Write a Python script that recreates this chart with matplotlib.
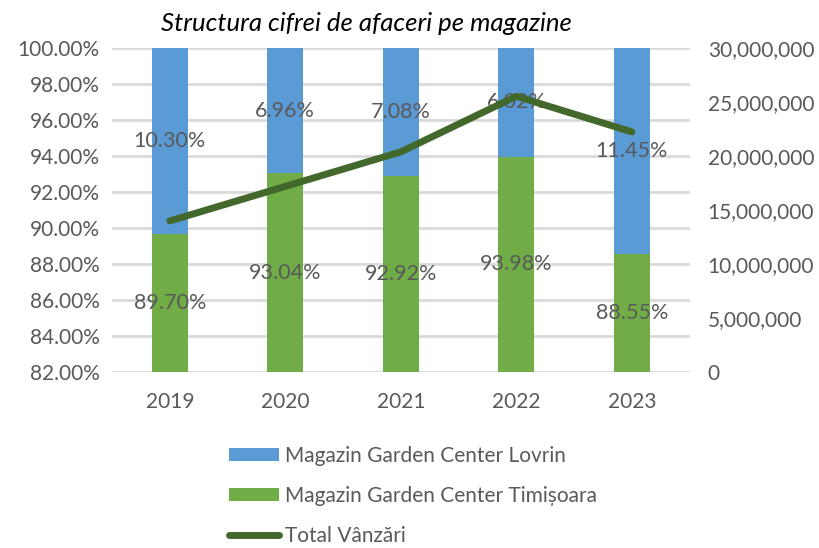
import matplotlib
matplotlib.use("Agg")
import matplotlib.pyplot as plt
from matplotlib.ticker import FuncFormatter, MultipleLocator
import numpy as np

years = ["2019", "2020", "2021", "2022", "2023"]
timisoara = [89.70, 93.04, 92.92, 93.98, 88.55]
lovrin = [10.30, 6.96, 7.08, 6.02, 11.45]
total_sales = [14.0e6, 17.2e6, 20.4e6, 25.55e6, 22.25e6]

BLUE = "#5b9bd5"
GREEN = "#70ad47"
DARK = "#43682b"
GRAY = "#595959"
FONT = "Lato"

plt.rcParams["font.family"] = [FONT, "DejaVu Sans"]

fig = plt.figure(figsize=(8.2, 5.48), dpi=100)
ax = fig.add_axes([0.1366, 0.321, 0.7044, 0.591])
x = np.arange(len(years))
w = 0.31
ymin, ymax = 82, 100

b1 = ax.bar(x, lovrin, w, bottom=timisoara, color=BLUE, label="Magazin Garden Center Lovrin", zorder=2)
b2 = ax.bar(x, timisoara, w, color=GREEN, label="Magazin Garden Center Timișoara", zorder=2)
ax.set_ylim(ymin, ymax)
ax.set_xlim(-0.5, len(years) - 0.5)
ax.yaxis.set_major_locator(MultipleLocator(2))
ax.yaxis.set_major_formatter(FuncFormatter(lambda v, p: f"{v:.2f}%"))
ax.grid(axis="y", color="#d9d9d9", linewidth=2, zorder=0)
ax.set_axisbelow(True)
for s in ax.spines.values():
    s.set_visible(False)
ax.set_xticks(x)
ax.set_xticklabels(years)
ax.tick_params(axis="both", length=0, labelsize=15, colors=GRAY, pad=9)
ax.tick_params(axis="x", pad=14)

for i in range(len(years)):
    t = timisoara[i]
    ax.text(x[i], (ymin + t) / 2, f"{t:.2f}%", ha="center", va="center", fontsize=15.5, color=GRAY, zorder=5)
    ax.text(x[i], (t + 100) / 2, f"{lovrin[i]:.2f}%", ha="center", va="center", fontsize=15.5, color=GRAY, zorder=5)

ax2 = ax.twinx()
ln, = ax2.plot(x, total_sales, color=DARK, linewidth=5, solid_capstyle="round", label="Total Vânzări", zorder=3)
ax2.set_ylim(0, 30e6)
ax2.yaxis.set_major_locator(MultipleLocator(5e6))
ax2.yaxis.set_major_formatter(FuncFormatter(lambda v, p: f"{v:,.0f}"))
ax2.tick_params(axis="y", length=0, labelsize=15, colors=GRAY, pad=13)
for s in ax2.spines.values():
    s.set_visible(False)

fig.text(0.447, 0.958, "Structura cifrei de afaceri pe magazine", ha="center", va="center",
         fontsize=18.5, style="italic", color="black")

fig.legend(handles=[b1, b2, ln], loc="upper left", bbox_to_anchor=(0.266, 0.205),
           frameon=False, fontsize=15, labelcolor=GRAY, handlelength=2.4, handleheight=0.6,
           handletextpad=0.3, labelspacing=0.95, borderpad=0)

fig.savefig("out.png", dpi=100)
